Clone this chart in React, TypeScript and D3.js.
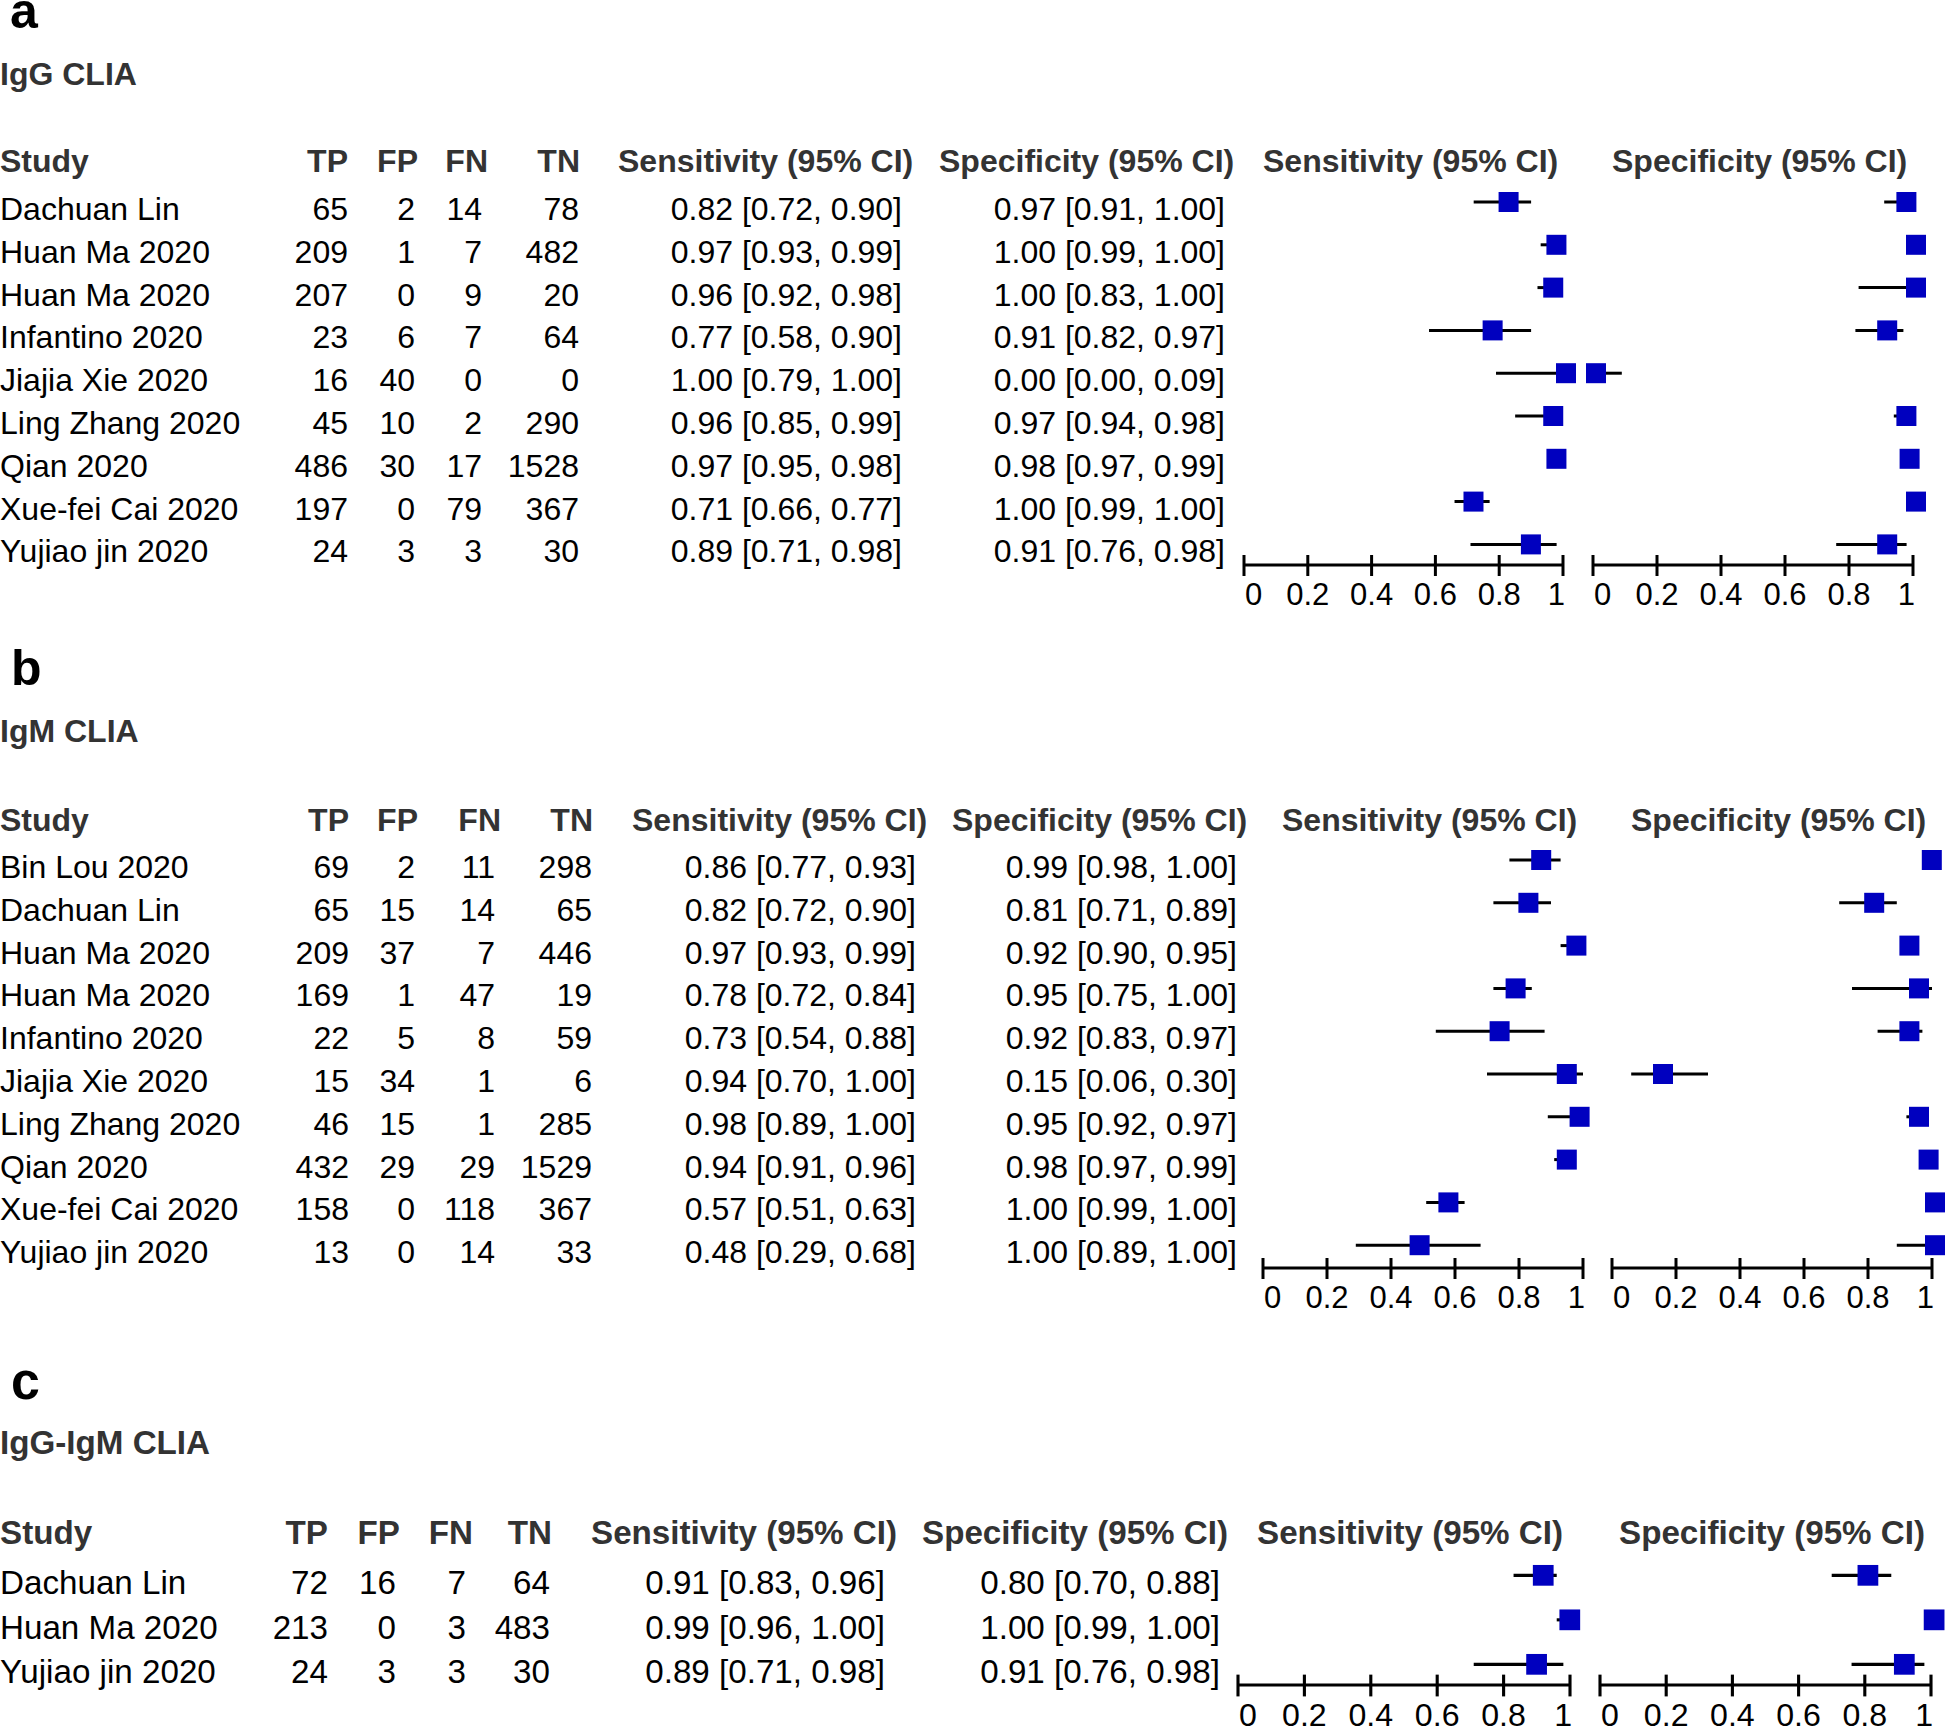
import React, { useEffect, useRef } from "react";
import * as d3 from "d3";

// ---- panel a: IgG CLIA
const studiesA = [
  "Dachuan Lin",
  "Huan Ma 2020",
  "Huan Ma 2020",
  "Infantino 2020",
  "Jiajia Xie 2020",
  "Ling Zhang 2020",
  "Qian 2020",
  "Xue-fei Cai 2020",
  "Yujiao jin 2020",
];
const tpA = [65, 209, 207, 23, 16, 45, 486, 197, 24];
const fpA = [2, 1, 0, 6, 40, 10, 30, 0, 3];
const fnA = [14, 7, 9, 7, 0, 2, 17, 79, 3];
const tnA = [78, 482, 20, 64, 0, 290, 1528, 367, 30];
// [estimate, lower, upper]
const sensA = [
  [0.82, 0.72, 0.9],
  [0.97, 0.93, 0.99],
  [0.96, 0.92, 0.98],
  [0.77, 0.58, 0.9],
  [1.0, 0.79, 1.0],
  [0.96, 0.85, 0.99],
  [0.97, 0.95, 0.98],
  [0.71, 0.66, 0.77],
  [0.89, 0.71, 0.98],
];
const specA = [
  [0.97, 0.91, 1.0],
  [1.0, 0.99, 1.0],
  [1.0, 0.83, 1.0],
  [0.91, 0.82, 0.97],
  [0.0, 0.0, 0.09],
  [0.97, 0.94, 0.98],
  [0.98, 0.97, 0.99],
  [1.0, 0.99, 1.0],
  [0.91, 0.76, 0.98],
];

// ---- panel b: IgM CLIA
const studiesB = [
  "Bin Lou 2020",
  "Dachuan Lin",
  "Huan Ma 2020",
  "Huan Ma 2020",
  "Infantino 2020",
  "Jiajia Xie 2020",
  "Ling Zhang 2020",
  "Qian 2020",
  "Xue-fei Cai 2020",
  "Yujiao jin 2020",
];
const tpB = [69, 65, 209, 169, 22, 15, 46, 432, 158, 13];
const fpB = [2, 15, 37, 1, 5, 34, 15, 29, 0, 0];
const fnB = [11, 14, 7, 47, 8, 1, 1, 29, 118, 14];
const tnB = [298, 65, 446, 19, 59, 6, 285, 1529, 367, 33];
const sensB = [
  [0.86, 0.77, 0.93],
  [0.82, 0.72, 0.9],
  [0.97, 0.93, 0.99],
  [0.78, 0.72, 0.84],
  [0.73, 0.54, 0.88],
  [0.94, 0.7, 1.0],
  [0.98, 0.89, 1.0],
  [0.94, 0.91, 0.96],
  [0.57, 0.51, 0.63],
  [0.48, 0.29, 0.68],
];
const specB = [
  [0.99, 0.98, 1.0],
  [0.81, 0.71, 0.89],
  [0.92, 0.9, 0.95],
  [0.95, 0.75, 1.0],
  [0.92, 0.83, 0.97],
  [0.15, 0.06, 0.3],
  [0.95, 0.92, 0.97],
  [0.98, 0.97, 0.99],
  [1.0, 0.99, 1.0],
  [1.0, 0.89, 1.0],
];

// ---- panel c: IgG-IgM CLIA
const studiesC = ["Dachuan Lin", "Huan Ma 2020", "Yujiao jin 2020"];
const tpC = [72, 213, 24];
const fpC = [16, 0, 3];
const fnC = [7, 3, 3];
const tnC = [64, 483, 30];
const sensC = [
  [0.91, 0.83, 0.96],
  [0.99, 0.96, 1.0],
  [0.89, 0.71, 0.98],
];
const specC = [
  [0.8, 0.7, 0.88],
  [1.0, 0.99, 1.0],
  [0.91, 0.76, 0.98],
];

const axisTicks = [0, 0.2, 0.4, 0.6, 0.8, 1];
const countHeaders = ["TP", "FP", "FN", "TN"];

const panels = [
  {
    letter: "a", title: "IgG CLIA",
    studies: studiesA, counts: [tpA, fpA, fnA, tnA], sens: sensA, spec: specA,
    layout: {
      s: 1, letterX: 10, letterY: 28, titleY: 85, headerY: 172, rowY0: 220, rowStep: 42.8, axisY: 565,
      countX: [348, 415, 482, 579], countHeadX: [348, 418, 488, 580],
      sensHead: 618, sensVal: 902, specHead: 939, specVal: 1225,
      forestSensHead: 1263, forestSpecHead: 1612,
      sensAxis: [1244, 1563], specAxis: [1593, 1913],
    },
  },
  {
    letter: "b", title: "IgM CLIA",
    studies: studiesB, counts: [tpB, fpB, fnB, tnB], sens: sensB, spec: specB,
    layout: {
      s: 1, letterX: 11, letterY: 685, titleY: 742, headerY: 831, rowY0: 878, rowStep: 42.8, axisY: 1268,
      countX: [349, 415, 495, 592], countHeadX: [349, 418, 501, 593],
      sensHead: 632, sensVal: 916, specHead: 952, specVal: 1237,
      forestSensHead: 1282, forestSpecHead: 1631,
      sensAxis: [1263, 1583], specAxis: [1612, 1932],
    },
  },
  {
    letter: "c", title: "IgG-IgM CLIA",
    studies: studiesC, counts: [tpC, fpC, fnC, tnC], sens: sensC, spec: specC,
    layout: {
      s: 1.037, letterX: 11, letterY: 1399, titleY: 1454, headerY: 1544, rowY0: 1594, rowStep: 44.5, axisY: 1685,
      countX: [328, 396, 466, 550], countHeadX: [328, 400, 473, 552],
      sensHead: 591, sensVal: 885, specHead: 922, specVal: 1220,
      forestSensHead: 1257, forestSpecHead: 1619,
      sensAxis: [1238, 1570], specAxis: [1600, 1931],
    },
  },
];

const FONT = "'Liberation Sans', Arial, Helvetica, sans-serif";
const HEAD_COLOR = "#333333";
const BOX_COLOR = "#0000bf";
const f2 = d3.format(".2f");
const ciText = (d: number[]) => `${f2(d[0])} [${f2(d[1])}, ${f2(d[2])}]`;

const drawPanel = (svg: any, p: any) => {
  const L = p.layout;
  const s = L.s;
  const fs = 32 * s;
  const g = svg.append("g").attr("font-family", FONT);

  const y = d3
    .scaleLinear()
    .domain([0, p.studies.length - 1])
    .range([L.rowY0, L.rowY0 + (p.studies.length - 1) * L.rowStep]);

  // panel letter and title
  g.append("text")
    .attr("x", L.letterX)
    .attr("y", L.letterY)
    .attr("font-size", 50 * s)
    .attr("font-weight", "bold")
    .attr("fill", "#000")
    .text(p.letter);
  g.append("text")
    .attr("x", 0)
    .attr("y", L.titleY)
    .attr("font-size", fs)
    .attr("font-weight", "bold")
    .attr("fill", HEAD_COLOR)
    .text(p.title);

  // header row
  const head = g
    .append("g")
    .attr("font-size", fs)
    .attr("font-weight", "bold")
    .attr("fill", HEAD_COLOR);
  head.append("text").attr("x", 0).attr("y", L.headerY).text("Study");
  countHeaders.forEach((h, i) => {
    head
      .append("text")
      .attr("x", L.countHeadX[i])
      .attr("y", L.headerY)
      .attr("text-anchor", "end")
      .text(h);
  });
  head.append("text").attr("x", L.sensHead).attr("y", L.headerY).text("Sensitivity (95% CI)");
  head.append("text").attr("x", L.specHead).attr("y", L.headerY).text("Specificity (95% CI)");
  head.append("text").attr("x", L.forestSensHead).attr("y", L.headerY).text("Sensitivity (95% CI)");
  head.append("text").attr("x", L.forestSpecHead).attr("y", L.headerY).text("Specificity (95% CI)");

  // table body
  const body = g.append("g").attr("font-size", fs).attr("fill", "#000");
  body
    .selectAll(".study")
    .data(p.studies)
    .enter()
    .append("text")
    .attr("x", 0)
    .attr("y", (d: any, i: number) => y(i))
    .text((d: any) => d);
  p.counts.forEach((col: number[], c: number) => {
    body
      .selectAll(".count" + c)
      .data(col)
      .enter()
      .append("text")
      .attr("x", L.countX[c])
      .attr("y", (d: any, i: number) => y(i))
      .attr("text-anchor", "end")
      .text((d: any) => d);
  });
  body
    .selectAll(".sensv")
    .data(p.sens)
    .enter()
    .append("text")
    .attr("x", L.sensVal)
    .attr("y", (d: any, i: number) => y(i))
    .attr("text-anchor", "end")
    .text((d: any) => ciText(d));
  body
    .selectAll(".specv")
    .data(p.spec)
    .enter()
    .append("text")
    .attr("x", L.specVal)
    .attr("y", (d: any, i: number) => y(i))
    .attr("text-anchor", "end")
    .text((d: any) => ciText(d));

  // forest plots
  const forest = (range: number[], data: number[][]) => {
    const x = d3.scaleLinear().domain([0, 1]).range(range);
    const fg = g.append("g");
    const box = 20 * s;
    const lift = 18 * s;
    fg.selectAll(".ci")
      .data(data)
      .enter()
      .append("line")
      .attr("x1", (d: any) => x(d[1]))
      .attr("x2", (d: any) => x(d[2]))
      .attr("y1", (d: any, i: number) => y(i) - lift)
      .attr("y2", (d: any, i: number) => y(i) - lift)
      .attr("stroke", "#000")
      .attr("stroke-width", 3 * s);
    fg.selectAll(".box")
      .data(data)
      .enter()
      .append("rect")
      .attr("x", (d: any) => x(d[0]) + 3 * s - box / 2)
      .attr("y", (d: any, i: number) => y(i) - lift - box / 2)
      .attr("width", box)
      .attr("height", box)
      .attr("fill", BOX_COLOR);

    // axis
    const ax = fg.append("g").attr("stroke", "#000").attr("stroke-width", 3 * s);
    ax.append("line")
      .attr("x1", x(0))
      .attr("x2", x(1))
      .attr("y1", L.axisY)
      .attr("y2", L.axisY);
    ax.selectAll(".tick")
      .data(axisTicks)
      .enter()
      .append("line")
      .attr("x1", (d: number) => x(d))
      .attr("x2", (d: number) => x(d))
      .attr("y1", L.axisY - 10 * s)
      .attr("y2", L.axisY + 11 * s);
    fg.selectAll(".tl")
      .data(axisTicks)
      .enter()
      .append("text")
      .attr("x", (d: number) => (d === 0 ? x(d) + 1 : d === 1 ? x(d) + 2 : x(d)))
      .attr("y", L.axisY + 40 * s)
      .attr("text-anchor", (d: number) => (d === 0 ? "start" : d === 1 ? "end" : "middle"))
      .attr("font-size", 31 * s)
      .attr("fill", "#000")
      .text((d: number) => d3.format("~g")(d));
  };
  forest(L.sensAxis, p.sens);
  forest(L.specAxis, p.spec);
};

const App = () => {
  const ref = useRef<SVGSVGElement>(null);

  useEffect(() => {
    const svg = d3.select(ref.current);
    svg.selectAll("*").remove();
    svg.append("rect").attr("width", 1946).attr("height", 1728).attr("fill", "#fff");
    panels.forEach((p) => drawPanel(svg, p));
  }, []);

  return (
    <svg
      ref={ref}
      width={1946}
      height={1728}
      style={{ position: "absolute", left: 0, top: 0, display: "block" }}
    />
  );
};

export default App;
